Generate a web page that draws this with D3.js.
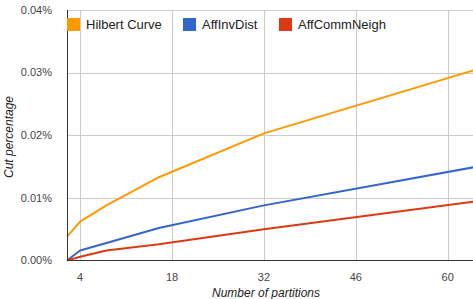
<!DOCTYPE html>
<html><head><meta charset="utf-8">
<script src="https://cdn.jsdelivr.net/npm/d3@7"></script>
<style>body{margin:0;background:#fff}svg{display:block;font-family:"Liberation Sans",Arial,sans-serif}</style>
</head><body><svg id="c" width="473" height="299"></svg>
<script>
const partitions = [2, 4, 8, 16, 32, 64];
const seriesNames = ["Hilbert Curve", "AffInvDist", "AffCommNeigh"];
const hilbert = [0.0038, 0.0062, 0.0088, 0.0133, 0.0203, 0.0304];
const affInvDist = [0.0000, 0.0016, 0.0028, 0.0052, 0.0088, 0.0149];
const affCommNeigh = [0.0000, 0.0006, 0.0016, 0.0026, 0.0050, 0.0094];
const xTicks = [4, 18, 32, 46, 60];
const yTicks = [0, 0.01, 0.02, 0.03, 0.04];
const colors = ["#ff9900", "#3366cc", "#dc3912"];

const svg = d3.select("#c");
const x = d3.scaleLinear().domain([2, 64]).range([67, 474]);
const y = d3.scaleLinear().domain([0, 0.04]).range([260.5, 10]);

// grid
svg.append("g").selectAll("line").data(yTicks.slice(1)).join("line")
  .attr("x1", 67).attr("x2", 473).attr("y1", d => Math.round(y(d)) + 0.5).attr("y2", d => Math.round(y(d)) + 0.5)
  .attr("stroke", "#cccccc").attr("stroke-width", 1);
svg.append("g").selectAll("line").data(xTicks).join("line")
  .attr("y1", 10).attr("y2", 260).attr("x1", d => Math.round(x(d)) + 0.5).attr("x2", d => Math.round(x(d)) + 0.5)
  .attr("stroke", "#cccccc").attr("stroke-width", 1);

// y tick labels
svg.append("g").selectAll("text").data(yTicks).join("text")
  .attr("x", 52).attr("y", d => y(d)).attr("dy", "0.35em").attr("text-anchor", "end")
  .attr("font-size", 11).attr("fill", "#444").text(d => d3.format(".2f")(d) + "%");
// x tick labels
svg.append("g").selectAll("text").data(xTicks).join("text")
  .attr("x", d => x(d)).attr("y", 281).attr("text-anchor", "middle")
  .attr("font-size", 11).attr("fill", "#444").text(d => d);

// titles
svg.append("text").attr("x", 266).attr("y", 297).attr("text-anchor", "middle")
  .attr("font-size", 12).attr("font-style", "italic").attr("fill", "#222").text("Number of partitions");
svg.append("text").attr("transform", "translate(13,137) rotate(-90)").attr("text-anchor", "middle")
  .attr("font-size", 12).attr("font-style", "italic").attr("fill", "#222").text("Cut percentage");

// lines
const data = [hilbert, affInvDist, affCommNeigh];
const line = d3.line().x((d, i) => x(partitions[i])).y(d => y(d));
svg.append("defs").append("clipPath").attr("id", "clip").append("rect")
  .attr("x", 67).attr("y", 0).attr("width", 406).attr("height", 262);
svg.append("g").attr("clip-path", "url(#clip)").selectAll("path").data(data).join("path")
  .attr("d", line).attr("fill", "none").attr("stroke", (d, i) => colors[i]).attr("stroke-width", 2)
  .attr("stroke-linejoin", "round");

// axes lines
svg.append("line").attr("x1", 67.5).attr("x2", 67.5).attr("y1", 10).attr("y2", 261).attr("stroke", "#333");
svg.append("line").attr("x1", 67).attr("x2", 473).attr("y1", 260.5).attr("y2", 260.5).attr("stroke", "#333");

// legend
const legX = [67, 183, 279];
const lg = svg.append("g").selectAll("g").data(seriesNames).join("g")
  .attr("transform", (d, i) => `translate(${legX[i]},18)`);
lg.append("rect").attr("width", 13).attr("height", 13).attr("fill", (d, i) => colors[i]);
lg.append("text").attr("x", 19).attr("y", 6.5).attr("dy", "0.35em").attr("font-size", 13).attr("fill", "#222").text(d => d);
</script></body></html>
